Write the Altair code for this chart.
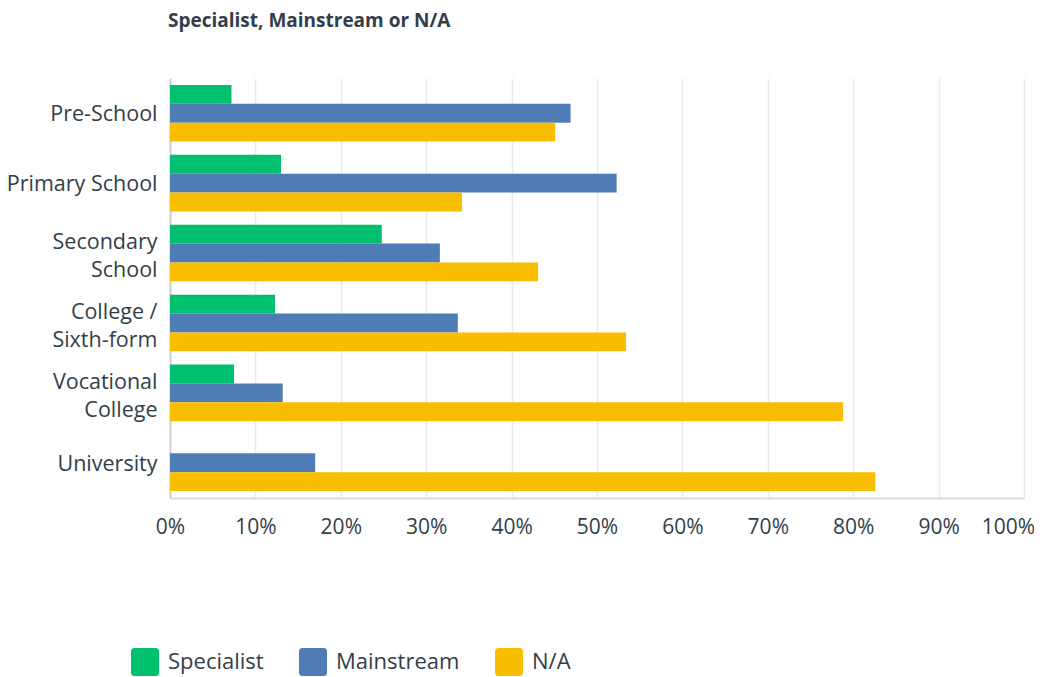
import altair as alt
import pandas as pd

categories = ["Pre-School", "Primary School", "Secondary School",
              "College / Sixth-form", "Vocational College", "University"]
series = ["Specialist", "Mainstream", "N/A"]
specialist = [0.072, 0.130, 0.248, 0.123, 0.075, 0.0]
mainstream = [0.469, 0.523, 0.316, 0.337, 0.132, 0.170]
na_values = [0.451, 0.342, 0.431, 0.534, 0.788, 0.826]
colors = ["#00bf6f", "#507cb6", "#f9be00"]
x_ticks = [i / 10 for i in range(11)]

rows = []
for i, c in enumerate(categories):
    for s, vals in zip(series, [specialist, mainstream, na_values]):
        rows.append({"category": c, "series": s, "value": vals[i]})
df = pd.DataFrame(rows)

rounded_square = ("M -0.75 -1 L 0.75 -1 Q 1 -1 1 -0.75 L 1 0.75 Q 1 1 0.75 1 "
                  "L -0.75 1 Q -1 1 -1 0.75 L -1 -0.75 Q -1 -1 -0.75 -1 Z")

multi_test = ("indexof(datum.value, ' ') > 0 && datum.value != 'Primary School'")
label_expr = ("datum.label == 'Primary School' ? datum.label : "
              "(datum.label == 'College / Sixth-form' ? ['College /', 'Sixth-form'] : "
              "split(datum.label, ' '))")

font = "Open Sans"
text_color = "#333e48"

chart = alt.Chart(df).mark_bar().encode(
    y=alt.Y("category:N", sort=categories,
            scale=alt.Scale(paddingInner=0.19, paddingOuter=0.1),
            axis=alt.Axis(title=None, ticks=False, labelExpr=label_expr,
                          labelFontSize=21.5, labelColor=text_color, labelFont=font,
                          labelPadding=13, labelLineHeight=28,
                          labelOffset={"condition": {"test": multi_test, "value": -10},
                                       "value": 2},
                          domainColor="#cfcfcf", domainWidth=2, grid=False)),
    yOffset=alt.YOffset("series:N", sort=series),
    x=alt.X("value:Q", scale=alt.Scale(domain=[0, 1], nice=False),
            axis=alt.Axis(title=None, values=x_ticks, format=".0%", ticks=False,
                          labelFlush=False,
                          labelOffset={"condition": {"test": "datum.value >= 1", "value": -16},
                                       "value": 0},
                          labelFontSize=21, labelColor=text_color, labelFont=font,
                          labelPadding=18, gridColor="#ebebeb", gridWidth=1.5,
                          domainColor="#dcdcdc", domainWidth=2)),
    color=alt.Color("series:N", sort=series,
                    scale=alt.Scale(domain=series, range=colors),
                    legend=alt.Legend(title=None, orient="none", direction="horizontal",
                                      legendX=-39, legendY=570,
                                      symbolType=rounded_square, symbolSize=784,
                                      symbolStrokeWidth=0, labelFontSize=22,
                                      labelFont=font, labelColor=text_color,
                                      labelOffset=9, columnPadding=35)),
).properties(
    width=854,
    height=420,
    title=alt.TitleParams("Specialist, Mainstream or N/A", anchor="start", frame="group",
                          fontSize=19, fontWeight="bold", font=font,
                          color=text_color, offset=47, dx=-2),
    autosize=alt.AutoSizeParams(type="none"),
    padding={"left": 162, "top": 70, "right": 10, "bottom": 182},
).configure_view(stroke=None)

chart.save("out.html", embed_options={"renderer": "svg", "actions": False})
